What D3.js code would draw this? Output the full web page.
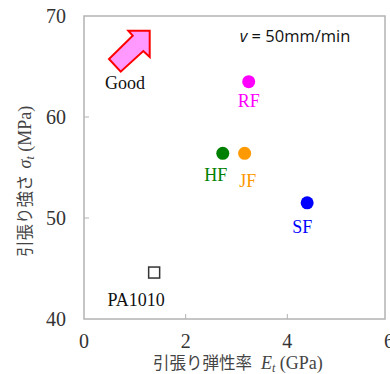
<!DOCTYPE html>
<html>
<head>
<meta charset="utf-8">
<script src="https://cdn.jsdelivr.net/npm/d3@7/dist/d3.min.js"></script>
<style>
  html, body { margin: 0; padding: 0; background: #fff; }
  svg { display: block; }
</style>
</head>
<body>
<svg id="chart" width="390" height="374"></svg>
<script>
// Materials and their measured properties
const materials = ["PA1010", "HF", "JF", "RF", "SF"];
const modulus = [1.38, 2.73, 3.16, 3.24, 4.39];      // E_t (GPa)
const strength = [44.6, 56.4, 56.4, 63.5, 51.5];     // sigma_t (MPa)
const xTicks = [0, 2, 4, 6];
const yTicks = [40, 50, 60, 70];

// Presentation per material
const colors = { PA1010: "#222", HF: "#008000", JF: "#ff9900", RF: "#ff00ff", SF: "#0000ff" };
const labelOffset = {               // label baseline relative to marker (px)
  PA1010: [-18, 33], HF: [-7, 28], JF: [3, 34], RF: [0, 25], SF: [-5, 30]
};

const svg = d3.select("#chart");
const plotLeft = 84, plotTop = 16, plotBottom = 319, frameRight = 385;
const x = d3.scaleLinear().domain([0, 6]).range([plotLeft, 389]);
const y = d3.scaleLinear().domain([40, 70]).range([plotBottom, plotTop]);

const serif = "'Liberation Serif', 'Times New Roman', serif";
const cjk = "'Noto Sans CJK JP', sans-serif";

// Frame
svg.append("rect")
  .attr("x", plotLeft).attr("y", plotTop)
  .attr("width", frameRight - plotLeft).attr("height", plotBottom - plotTop)
  .attr("fill", "none").attr("stroke", "#b3b3b3").attr("stroke-width", 1.5);

// Inner tick marks
svg.append("g").selectAll("line").data(xTicks.filter(d => d > 0 && d < 6)).join("line")
  .attr("x1", d => x(d)).attr("x2", d => x(d))
  .attr("y1", plotBottom).attr("y2", plotBottom - 5)
  .attr("stroke", "#b3b3b3").attr("stroke-width", 1);
svg.append("g").selectAll("line").data(yTicks.filter(d => d > 40 && d < 70)).join("line")
  .attr("x1", plotLeft).attr("x2", plotLeft + 5)
  .attr("y1", d => y(d)).attr("y2", d => y(d))
  .attr("stroke", "#b3b3b3").attr("stroke-width", 1);

// Tick labels
svg.append("g").selectAll("text").data(xTicks).join("text")
  .attr("x", d => x(d)).attr("y", 348)
  .attr("text-anchor", "middle")
  .attr("font-family", serif).attr("font-size", 20).attr("fill", "#333")
  .text(d => d);
svg.append("g").selectAll("text").data(yTicks).join("text")
  .attr("x", 66).attr("y", d => y(d) + 7)
  .attr("text-anchor", "end")
  .attr("font-family", serif).attr("font-size", 20).attr("fill", "#333")
  .text(d => d);

// Axis titles
const xt = svg.append("text")
  .attr("x", 153).attr("y", 369)
  .attr("text-anchor", "start").attr("font-size", 18).attr("fill", "#444");
xt.append("tspan").attr("font-family", cjk).attr("font-size", 16.5).text("引張り弾性率");
xt.append("tspan").attr("font-family", serif).attr("font-style", "italic").attr("dx", 9).text("E");
xt.append("tspan").attr("font-family", serif).attr("font-style", "italic")
  .attr("font-size", 12).attr("dy", 3).text("t");
xt.append("tspan").attr("font-family", serif).attr("dy", -3).text(" (GPa)");

const yt = svg.append("text")
  .attr("transform", "translate(31,257) rotate(-90)")
  .attr("text-anchor", "start").attr("font-size", 18).attr("fill", "#444");
yt.append("tspan").attr("font-family", cjk).attr("font-size", 16.5).text("引張り強さ");
yt.append("tspan").attr("font-family", serif).attr("font-style", "italic").attr("dx", 6).text("σ");
yt.append("tspan").attr("font-family", serif).attr("font-style", "italic")
  .attr("font-size", 12).attr("dy", 3).text("t");
yt.append("tspan").attr("font-family", serif).attr("dy", -3).text(" (MPa)");

// Markers
const rows = materials.map((m, i) => ({ name: m, ex: modulus[i], st: strength[i] }));
svg.append("g").selectAll("circle").data(rows.filter(d => d.name !== "PA1010")).join("circle")
  .attr("cx", d => x(d.ex)).attr("cy", d => y(d.st)).attr("r", 6.5)
  .attr("fill", d => colors[d.name]);
svg.append("g").selectAll("rect").data(rows.filter(d => d.name === "PA1010")).join("rect")
  .attr("x", d => x(d.ex) - 5.5).attr("y", d => y(d.st) - 5.5)
  .attr("width", 11).attr("height", 11)
  .attr("fill", "#fff").attr("stroke", "#333").attr("stroke-width", 1.5);

// Marker labels
svg.append("g").selectAll("text").data(rows).join("text")
  .attr("x", d => x(d.ex) + labelOffset[d.name][0])
  .attr("y", d => y(d.st) + labelOffset[d.name][1])
  .attr("text-anchor", "middle")
  .attr("font-family", serif).attr("font-size", 18)
  .attr("fill", d => d.name === "PA1010" ? "#111" : colors[d.name])
  .text(d => d.name);

// "Good" direction arrow
const tip = [149.7, 30.7];
const arrowPts = [[0, 0], [-21.4, 0], [-17, 5], [-40.7, 28.3], [-29, 41], [-6.4, 20.3], [0, 26.3]];
svg.append("path")
  .attr("d", "M" + arrowPts.map(p => [tip[0] + p[0], tip[1] + p[1]].join(",")).join("L") + "Z")
  .attr("fill", "#ff99ff").attr("stroke", "#ff0000").attr("stroke-width", 2)
  .attr("stroke-linejoin", "miter");
svg.append("text")
  .attr("x", 125).attr("y", 89).attr("text-anchor", "middle")
  .attr("font-family", serif).attr("font-size", 18).attr("fill", "#111")
  .text("Good");

// Test speed note
const note = svg.append("text")
  .attr("x", 295).attr("y", 42).attr("text-anchor", "middle")
  .attr("font-family", "'Open Sans', sans-serif").attr("font-size", 16.5).attr("fill", "#111");
note.append("tspan").attr("font-style", "italic").text("v");
note.append("tspan").text(" = 50mm/min");
</script>
</body>
</html>
